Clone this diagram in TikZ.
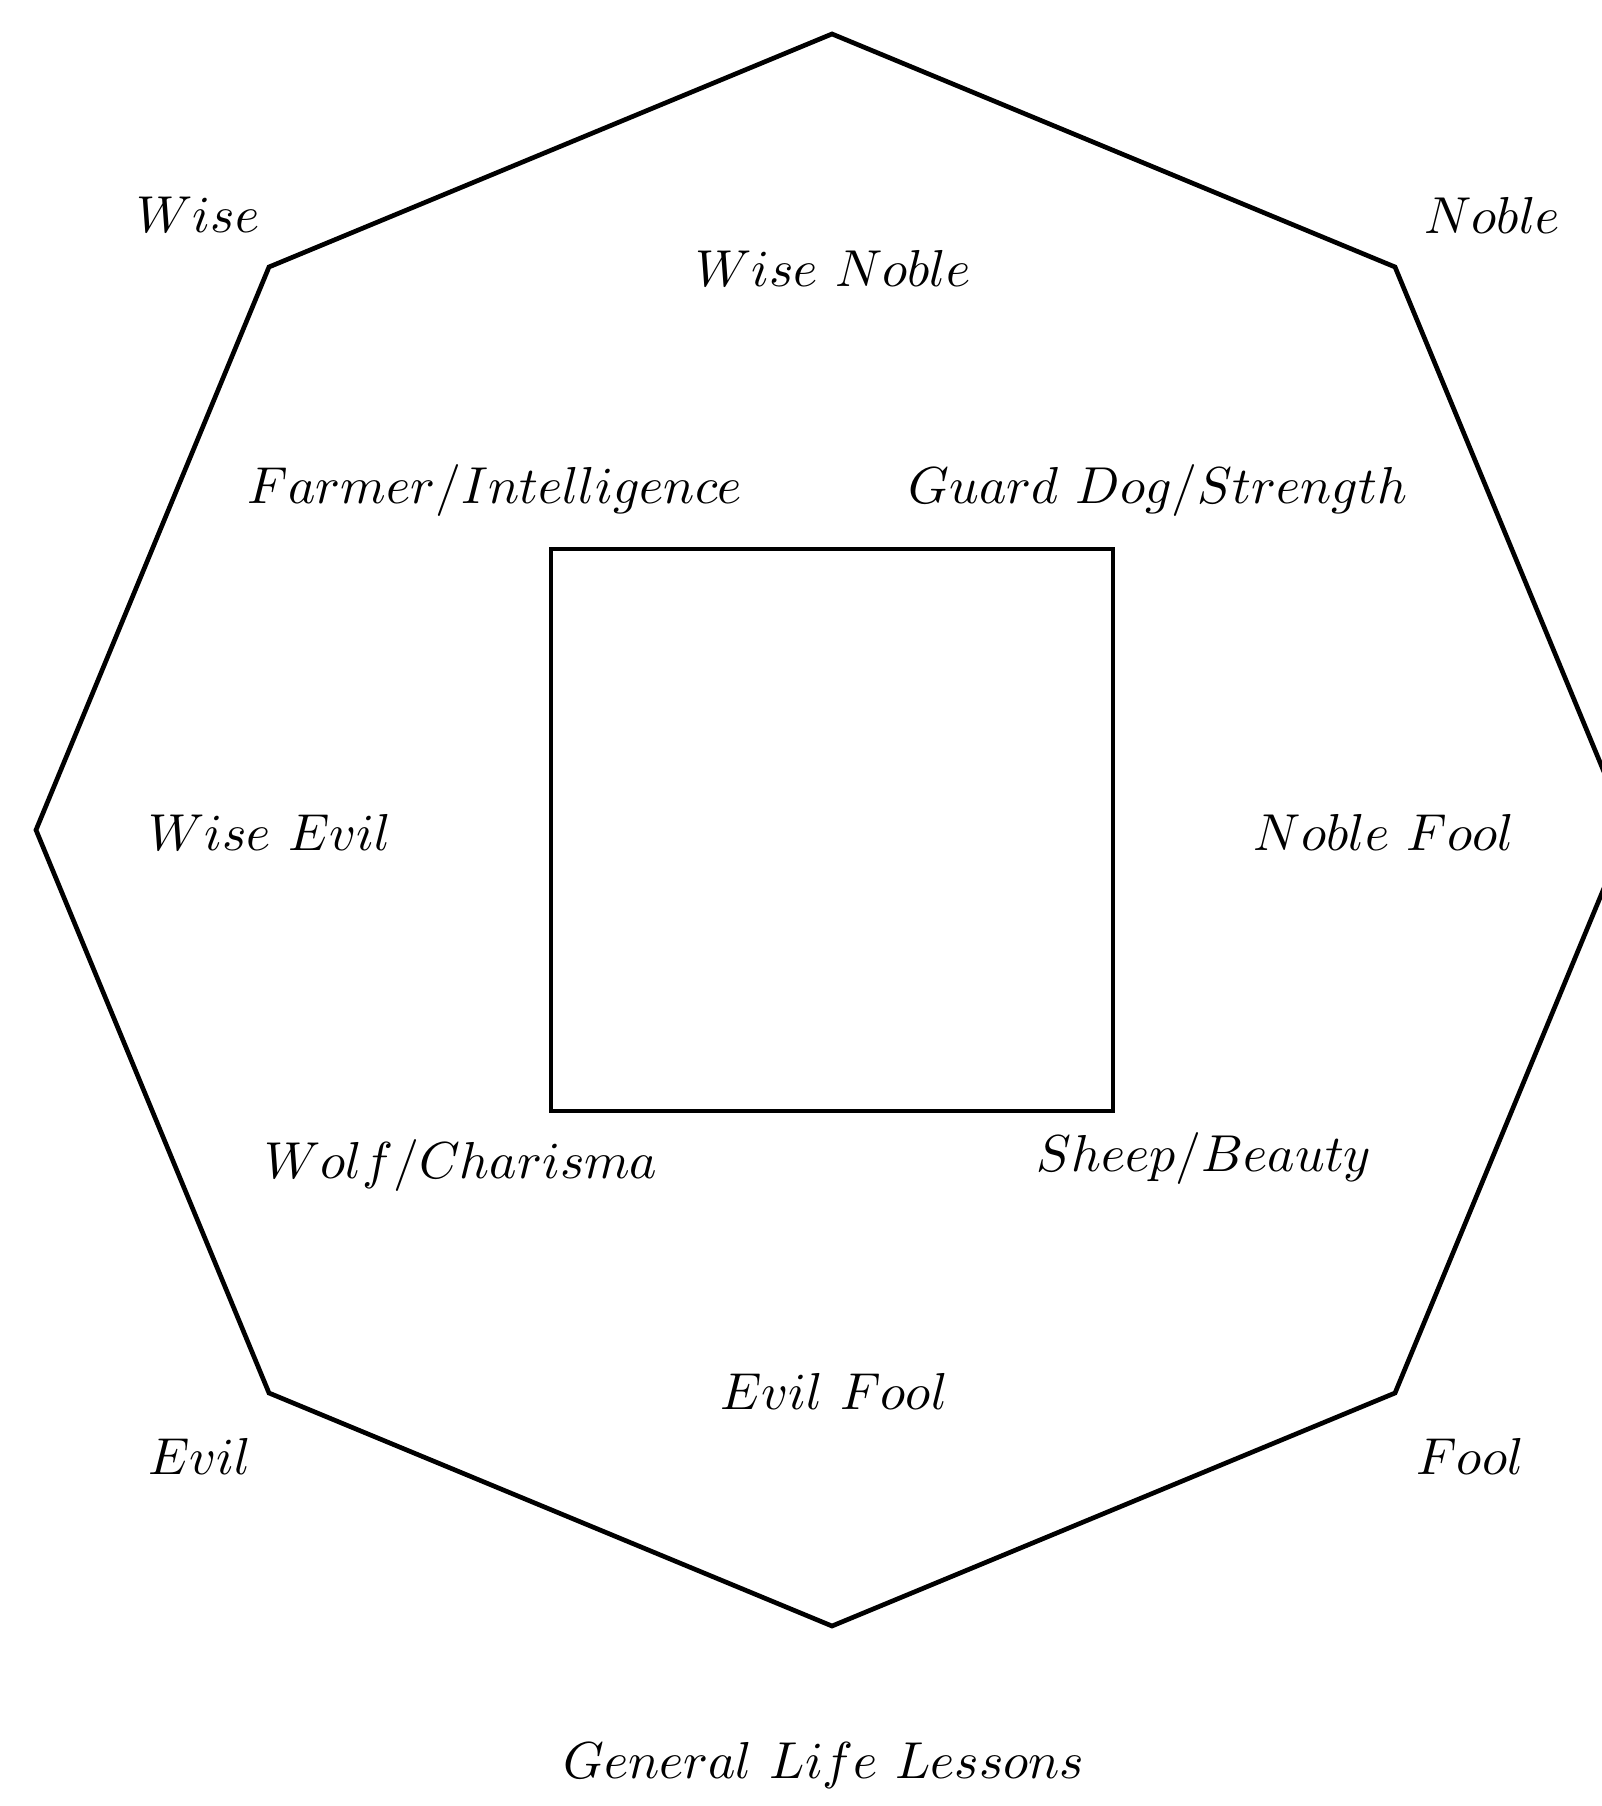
\documentclass[tikz,border=0pt]{standalone}
\begin{document}
\begin{tikzpicture}[x=0.1925pt,y=-0.1925pt,
  lbl/.style={inner sep=0pt,font=\normalsize},
  edge/.style={line width=0.9pt,line join=miter}]
\useasboundingbox (0,0) rectangle (1601,1806);
% centre and octagon
\coordinate (c) at (832,830);
\coordinate (o1) at (832,34);
\coordinate (o2) at (1395,267);
\coordinate (o3) at (1628,830);
\coordinate (o4) at (1395,1393);
\coordinate (o5) at (832,1626);
\coordinate (o6) at (269,1393);
\coordinate (o7) at (36,830);
\coordinate (o8) at (269,267);
\draw[edge] (o1) -- (o2) -- (o3) -- (o4) -- (o5) -- (o6) -- (o7) -- (o8) -- cycle;
% inner square
\coordinate (s1) at (551,549);
\coordinate (s2) at (1113,1111);
\draw[edge] (s1) rectangle (s2);
% labels
\node[lbl] (wise) at (198,215) {$Wise$};
\node[lbl] (noble) at (1492,215) {$Noble$};
\node[lbl] (evil) at (200,1456) {$Evil$};
\node[lbl] (fool) at (1470,1456) {$Fool$};
\node[lbl] (wn) at (833,268) {$Wise\ Noble$};
\node[lbl] (we) at (270,832) {$Wise\ Evil$};
\node[lbl] (nf) at (1384,832) {$Noble\ Fool$};
\node[lbl] (ef) at (834,1391) {$Evil\ Fool$};
\node[lbl] (farmer) at (495,491) {$Farmer/Intelligence$};
\node[lbl] (guard) at (1158,491) {$Guard\ Dog/Strength$};
\node[lbl] (wolf) at (461,1166) {$Wolf/Charisma$};
\node[lbl] (sheep) at (1204,1159) {$Sheep/Beauty$};
\node[lbl] (title) at (824,1765) {$General\ Life\ Lessons$};
\end{tikzpicture}
\end{document}
